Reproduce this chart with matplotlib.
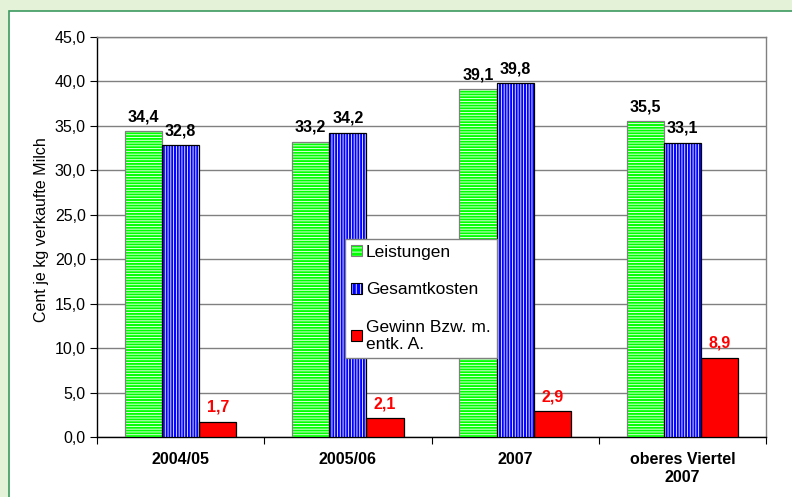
import numpy as np
import matplotlib
matplotlib.use("Agg")
import matplotlib.pyplot as plt
from matplotlib.patches import Patch, Rectangle
from matplotlib.legend_handler import HandlerTuple

# Data
categories = ["2004/05", "2005/06", "2007", "oberes Viertel\n2007"]
leistungen = [34.4, 33.2, 39.1, 35.5]
gesamtkosten = [32.8, 34.2, 39.8, 33.1]
gewinn = [1.7, 2.1, 2.9, 8.9]
series_names = ["Leistungen", "Gesamtkosten", "Gewinn Bzw. m.\nentk. A."]
y_ticks = [0, 5, 10, 15, 20, 25, 30, 35, 40, 45]

plt.rcParams['font.family'] = ['Liberation Sans', 'DejaVu Sans']
plt.rcParams['hatch.linewidth'] = 0.6

FS = 11.5


def fmt(v):
    return f"{v:.1f}".replace('.', ',')


def main():
    fig = plt.figure(figsize=(7.92, 4.97), dpi=100)
    fig.patch.set_facecolor('#E4F2D8')

    # white frame with green border
    fig.patches.append(Rectangle((9 / 792, -0.01), 1, 1 - 11 / 497 + 0.01, transform=fig.transFigure,
                                 facecolor='white', edgecolor='#3C9A5F', linewidth=1.2, zorder=-10))

    ax = fig.add_axes([97 / 792, 1 - 437 / 497, (766 - 97) / 792, 400 / 497])
    ax.set_facecolor('white')

    x = np.arange(len(categories))
    w = 0.222
    styles = [
        dict(color='#00FF00', hatch='------', border='#808080'),
        dict(color='#0000FF', hatch='||||||', border='#000000'),
        dict(color='#FF0000', hatch=None, border='#000000'),
    ]
    handles = []
    for k, (vals, st) in enumerate(zip([leistungen, gesamtkosten, gewinn], styles)):
        pos = x + (k - 1) * w
        if st['hatch']:
            ax.bar(pos, vals, w, color=st['color'], edgecolor='white', linewidth=0,
                   hatch=st['hatch'], zorder=3)
            ax.bar(pos, vals, w, fill=False, edgecolor=st['border'], linewidth=0.9, zorder=4)
            h = (Patch(facecolor=st['color'], edgecolor='white', hatch='||||' if k == 1 else '----', linewidth=0),
                 Patch(fill=False, edgecolor=st['border'], linewidth=0.8))
        else:
            ax.bar(pos, vals, w, color=st['color'], edgecolor=st['border'], linewidth=0.9, zorder=3)
            h = Patch(facecolor=st['color'], edgecolor=st['border'], linewidth=0.8)
        handles.append(h)
        tcol = '#FF0000' if k == 2 else 'black'
        for p, v in zip(pos, vals):
            ax.text(p, v + 0.8, fmt(v), ha='center', va='bottom', fontsize=FS,
                    fontweight='bold', color=tcol, zorder=5)

    ax.set_ylim(0, 45)
    ax.set_xlim(-0.5, len(categories) - 0.5)
    ax.set_yticks(y_ticks)
    ax.set_yticklabels([fmt(v) for v in y_ticks], fontsize=FS)
    ax.yaxis.grid(True, color='#808080', linewidth=1.0, zorder=0)
    ax.set_axisbelow(True)

    ax.set_xticks(np.arange(len(categories) + 1) - 0.5)
    ax.set_xticklabels([])
    ax.set_xticks(x, minor=True)
    ax.set_xticklabels(categories, minor=True, fontsize=FS, fontweight='bold')
    ax.tick_params(axis='x', which='major', length=5, color='black', direction='out')
    ax.tick_params(axis='x', which='minor', length=0, pad=11)
    ax.tick_params(axis='y', length=5, color='black', direction='out', pad=3)

    for s in ['top', 'right']:
        ax.spines[s].set_color('#808080')
        ax.spines[s].set_linewidth(1.0)
    for s in ['left', 'bottom']:
        ax.spines[s].set_color('black')
        ax.spines[s].set_linewidth(1.0)

    fig.text(42 / 792, 1 - 230 / 497, "Cent je kg verkaufte Milch", rotation=90,
             ha='center', va='center', fontsize=FS)

    leg = ax.legend(handles, series_names, loc='upper left',
                    bbox_to_anchor=(0.371, 0.495), fancybox=False, framealpha=1,
                    edgecolor='#808080', fontsize=12.5, handlelength=0.6, handleheight=0.6,
                    handletextpad=0.25, labelspacing=1.28, borderpad=0.35, borderaxespad=0,
                    handler_map={tuple: HandlerTuple(ndivide=1)})
    leg.get_frame().set_linewidth(1.0)
    leg.set_zorder(10)

    fig.savefig("out.png", dpi=100, facecolor=fig.get_facecolor())


if __name__ == "__main__":
    main()
